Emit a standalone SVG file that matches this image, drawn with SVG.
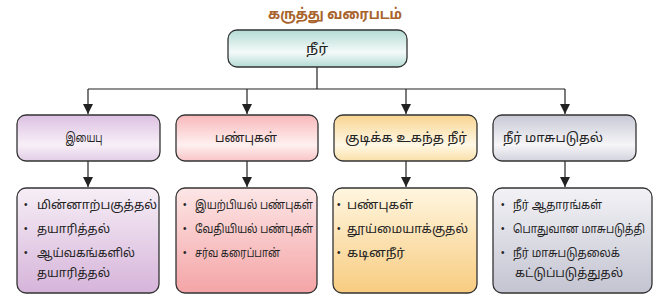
<svg xmlns="http://www.w3.org/2000/svg" width="666" height="300" viewBox="0 0 666 300">
<defs>
<linearGradient id="gTop" x1="0" y1="0" x2="0" y2="1">
<stop offset="0" stop-color="#b4dbd4"/><stop offset="0.6" stop-color="#f4faf9"/><stop offset="1" stop-color="#b4dbd4"/>
</linearGradient>
<linearGradient id="gP2" x1="0" y1="0" x2="0" y2="1">
<stop offset="0" stop-color="#dcc0e2"/><stop offset="0.65" stop-color="#f8f0f8"/><stop offset="1" stop-color="#e2cce6"/>
</linearGradient>
<linearGradient id="gR2" x1="0" y1="0" x2="0" y2="1">
<stop offset="0" stop-color="#f8b8ba"/><stop offset="0.65" stop-color="#fff0f0"/><stop offset="1" stop-color="#f8c4c6"/>
</linearGradient>
<linearGradient id="gY2" x1="0" y1="0" x2="0" y2="1">
<stop offset="0" stop-color="#f8d490"/><stop offset="0.65" stop-color="#fff8e6"/><stop offset="1" stop-color="#fae0a8"/>
</linearGradient>
<linearGradient id="gG2" x1="0" y1="0" x2="0" y2="1">
<stop offset="0" stop-color="#c8c8d6"/><stop offset="0.65" stop-color="#f6f6f8"/><stop offset="1" stop-color="#d2d2de"/>
</linearGradient>
<linearGradient id="gP3" x1="0" y1="0" x2="0" y2="1">
<stop offset="0" stop-color="#f6eef6"/><stop offset="1" stop-color="#d6b4da"/>
</linearGradient>
<linearGradient id="gR3" x1="0" y1="0" x2="0" y2="1">
<stop offset="0" stop-color="#fde6e6"/><stop offset="1" stop-color="#f4a4a6"/>
</linearGradient>
<linearGradient id="gY3" x1="0" y1="0" x2="0" y2="1">
<stop offset="0" stop-color="#fff6e0"/><stop offset="1" stop-color="#f8cc80"/>
</linearGradient>
<linearGradient id="gG3" x1="0" y1="0" x2="0" y2="1">
<stop offset="0" stop-color="#f2f2f6"/><stop offset="1" stop-color="#c4c4d2"/>
</linearGradient>
<marker id="arr" viewBox="0 0 10 10" refX="10" refY="5" markerWidth="10" markerHeight="10" markerUnits="userSpaceOnUse" orient="auto">
<path d="M0,0 L10,5 L0,10 z" fill="#222"/>
</marker>
</defs>
<style>
.box{stroke:#333;stroke-width:1.3}
.t{font-family:"Noto Sans Tamil","Noto Sans","Liberation Sans",sans-serif;font-size:12px;fill:#222}
.h{font-size:13px}
.b{font-family:"Liberation Sans",sans-serif;font-size:10px;fill:#222}
.c{text-anchor:middle}
.title{font-family:"Noto Sans Tamil","Noto Sans","Liberation Sans",sans-serif;font-size:15px;font-weight:bold;fill:#a8632c;text-anchor:middle}
.ln{fill:none;stroke:#222;stroke-width:1.2}
</style>
<text class="title" x="335" y="19" textLength="134" lengthAdjust="spacingAndGlyphs">கருத்து வரைபடம்</text>
<g id="connectors">
<path class="ln" d="M317,67 V89"/>
<path class="ln" d="M88,89 H565"/>
<path class="ln" d="M88,89 V114" marker-end="url(#arr)"/>
<path class="ln" d="M247,89 V114" marker-end="url(#arr)"/>
<path class="ln" d="M406,89 V114" marker-end="url(#arr)"/>
<path class="ln" d="M565,89 V114" marker-end="url(#arr)"/>
<path class="ln" d="M88,161 V187" marker-end="url(#arr)"/>
<path class="ln" d="M247,161 V187" marker-end="url(#arr)"/>
<path class="ln" d="M406,161 V187" marker-end="url(#arr)"/>
<path class="ln" d="M565,161 V187" marker-end="url(#arr)"/>
</g>
<g id="root">
<rect class="box" x="228" y="30" width="179" height="37" rx="9" fill="url(#gTop)"/>
<text class="t h c" x="317" y="53" textLength="22" lengthAdjust="spacingAndGlyphs">நீர்</text>
</g>
<g id="n1">
<rect class="box" x="17" y="115" width="143" height="46" rx="9" fill="url(#gP2)"/>
<text class="t h c" x="84" y="142" textLength="37" lengthAdjust="spacingAndGlyphs">இயைபு</text>
</g>
<g id="n2">
<rect class="box" x="176" y="115" width="142" height="46" rx="9" fill="url(#gR2)"/>
<text class="t h c" x="246" y="142" textLength="62" lengthAdjust="spacingAndGlyphs">பண்புகள்</text>
</g>
<g id="n3">
<rect class="box" x="334" y="115" width="143" height="46" rx="9" fill="url(#gY2)"/>
<text class="t h c" x="406" y="142" textLength="122" lengthAdjust="spacingAndGlyphs">குடிக்க உகந்த நீர்</text>
</g>
<g id="n4">
<rect class="box" x="493" y="115" width="143" height="46" rx="9" fill="url(#gG2)"/>
<text class="t h c" x="553" y="142" textLength="100" lengthAdjust="spacingAndGlyphs">நீர் மாசுபடுதல்</text>
</g>
<g id="l1">
<rect class="box" x="17" y="188" width="142" height="105" rx="9" fill="url(#gP3)"/>
<text class="b" x="24" y="208">•</text><text class="t" x="37" y="209" textLength="120" lengthAdjust="spacingAndGlyphs">மின்னாற்பகுத்தல்</text>
<text class="b" x="24" y="232">•</text><text class="t" x="37" y="233" textLength="73" lengthAdjust="spacingAndGlyphs">தயாரித்தல்</text>
<text class="b" x="24" y="256">•</text><text class="t" x="37" y="257" textLength="98" lengthAdjust="spacingAndGlyphs">ஆய்வகங்களில்</text>
<text class="t" x="37" y="277" textLength="73" lengthAdjust="spacingAndGlyphs">தயாரித்தல்</text>
</g>
<g id="l2">
<rect class="box" x="176" y="188" width="141" height="105" rx="9" fill="url(#gR3)"/>
<text class="b" x="183" y="208">•</text><text class="t" x="195" y="209" textLength="118" lengthAdjust="spacingAndGlyphs">இயற்பியல் பண்புகள்</text>
<text class="b" x="183" y="232">•</text><text class="t" x="195" y="233" textLength="118" lengthAdjust="spacingAndGlyphs">வேதியியல் பண்புகள்</text>
<text class="b" x="183" y="256">•</text><text class="t" x="195" y="257" textLength="85" lengthAdjust="spacingAndGlyphs">சர்வ கரைப்பான்</text>
</g>
<g id="l3">
<rect class="box" x="333" y="188" width="144" height="105" rx="9" fill="url(#gY3)"/>
<text class="b" x="337" y="208">•</text><text class="t" x="347" y="209" textLength="66" lengthAdjust="spacingAndGlyphs">பண்புகள்</text>
<text class="b" x="337" y="232">•</text><text class="t" x="347" y="233" textLength="121" lengthAdjust="spacingAndGlyphs">தூய்மையாக்குதல்</text>
<text class="b" x="337" y="256">•</text><text class="t" x="347" y="257" textLength="58" lengthAdjust="spacingAndGlyphs">கடினநீர்</text>
</g>
<g id="l4">
<rect class="box" x="493" y="188" width="159" height="105" rx="9" fill="url(#gG3)"/>
<text class="b" x="501" y="208">•</text><text class="t" x="513" y="209" textLength="89" lengthAdjust="spacingAndGlyphs">நீர் ஆதாரங்கள்</text>
<text class="b" x="501" y="232">•</text><text class="t" x="513" y="233" textLength="132" lengthAdjust="spacingAndGlyphs">பொதுவான மாசுபடுத்தி</text>
<text class="b" x="501" y="256">•</text><text class="t" x="513" y="257" textLength="107" lengthAdjust="spacingAndGlyphs">நீர் மாசுபடுதலைக்</text>
<text class="t" x="515" y="277" textLength="108" lengthAdjust="spacingAndGlyphs">கட்டுப்படுத்துதல்</text>
</g>
</svg>
